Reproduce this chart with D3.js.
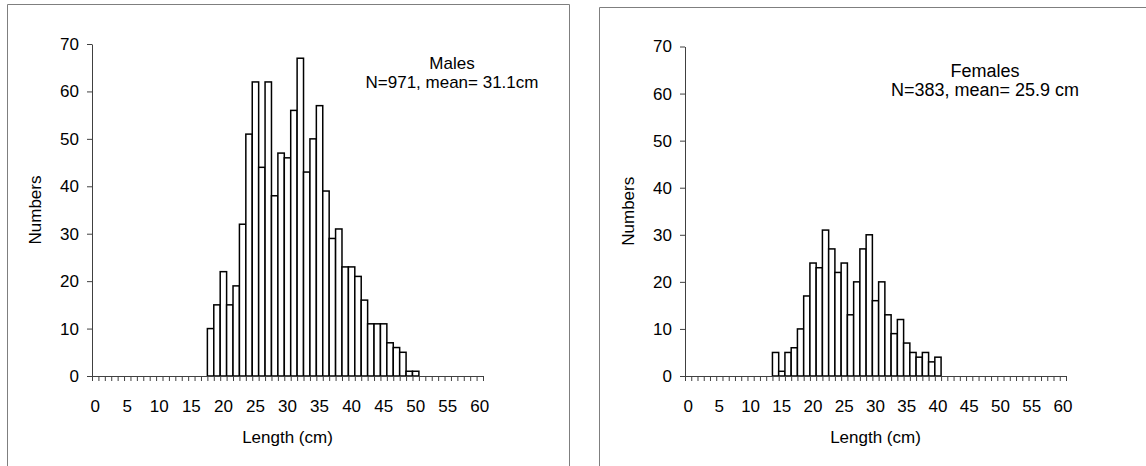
<!DOCTYPE html>
<html>
<head>
<meta charset="utf-8">
<script src="https://cdnjs.cloudflare.com/ajax/libs/d3/7.8.5/d3.min.js"></script>
<style>
  body { margin: 0; background: #fff; }
  svg text { font-family: "Liberation Sans", Arial, sans-serif; fill: #000; }
</style>
</head>
<body>
<svg id="vis" width="1146" height="466"></svg>
<script>
// length classes (cm) on the category axis
var categories = d3.range(0, 61);
var xTickLabels = [0, 5, 10, 15, 20, 25, 30, 35, 40, 45, 50, 55, 60];
var yTickLabels = [0, 10, 20, 30, 40, 50, 60, 70];

var maleLengths = [18, 19, 20, 21, 22, 23, 24, 25, 26, 27, 28, 29, 30, 31, 32, 33, 34,
                   35, 36, 37, 38, 39, 40, 41, 42, 43, 44, 45, 46, 47, 48, 49, 50];
var maleCounts  = [10, 15, 22, 15, 19, 32, 51, 62, 44, 62, 38, 47, 46, 56, 67, 43, 50,
                   57, 39, 29, 31, 23, 23, 21, 16, 11, 11, 11, 7, 6, 5, 1, 1];

var femaleLengths = [14, 15, 16, 17, 18, 19, 20, 21, 22, 23, 24, 25, 26, 27,
                     28, 29, 30, 31, 32, 33, 34, 35, 36, 37, 38, 39, 40];
var femaleCounts  = [5, 1, 5, 6, 10, 17, 24, 23, 31, 27, 22, 24, 13, 20,
                     27, 30, 16, 20, 13, 9, 12, 7, 5, 4, 5, 3, 4];

var svg = d3.select("#vis");

// panel frames
svg.append("path")
  .attr("d", "M7.5,466 V4.5 H569.5 V466")
  .attr("fill", "none").attr("stroke", "#7f7f7f").attr("stroke-width", 1);
svg.append("path")
  .attr("d", "M599.5,466 V7.5 H1146")
  .attr("fill", "none").attr("stroke", "#7f7f7f").attr("stroke-width", 1);

function drawPanel(p) {
  var g = svg.append("g");
  var lens = p.lengths, counts = p.counts;

  var x = d3.scaleBand().domain(categories).range([p.left, p.right]).padding(0);
  var xEdge = d3.scaleLinear().domain([0, categories.length]).range([p.left, p.right]);
  var y = d3.scaleLinear().domain([0, 70]).range([p.bottom, p.top]);

  // bars
  g.selectAll("rect.bar").data(lens).enter()
    .append("rect")
    .attr("class", "bar")
    .attr("x", function(d) { return x(d); })
    .attr("y", function(d, i) { return y(counts[i]); })
    .attr("width", x.bandwidth())
    .attr("height", function(d, i) { return y(0) - y(counts[i]); })
    .attr("fill", "#fff")
    .attr("stroke", "#000")
    .attr("stroke-width", 1.5);

  // y axis
  var ya = g.append("g")
    .attr("transform", "translate(" + p.left + ",0)")
    .call(d3.axisLeft(y).tickValues(yTickLabels).tickSize(5).tickPadding(8).tickSizeOuter(0));
  ya.select(".domain").attr("stroke", "#404040");
  ya.selectAll(".tick line").attr("stroke", "#404040");
  ya.selectAll("text").style("font-size", "17px");

  // x axis: ticks between categories
  var xt = g.append("g")
    .attr("transform", "translate(0," + p.bottom + ")")
    .call(d3.axisBottom(xEdge).tickValues(d3.range(0, categories.length + 1))
      .tickSize(5).tickFormat("").tickSizeOuter(0));
  xt.select(".domain").attr("stroke", "#404040");
  xt.selectAll(".tick line").attr("stroke", "#404040");

  // x axis labels every 5 cm
  var xl = g.append("g")
    .attr("transform", "translate(0," + p.bottom + ")")
    .call(d3.axisBottom(x).tickValues(xTickLabels).tickSize(0).tickPadding(24));
  xl.select(".domain").remove();
  xl.selectAll("text").style("font-size", "17px");

  g.append("text")
    .attr("x", (p.left + p.right) / 2).attr("y", 443)
    .attr("text-anchor", "middle").style("font-size", "17px")
    .text("Length (cm)");

  g.append("text")
    .attr("transform", "translate(" + p.yTitleX + "," + ((p.top + p.bottom) / 2) + ") rotate(-90)")
    .attr("text-anchor", "middle").style("font-size", "17px")
    .text("Numbers");

  g.append("text")
    .attr("x", p.noteX).attr("y", p.noteY)
    .attr("text-anchor", "middle").style("font-size", p.noteSize)
    .text(p.title);
  g.append("text")
    .attr("x", p.noteX).attr("y", p.noteY + 19)
    .attr("text-anchor", "middle").style("font-size", p.noteSize)
    .text(p.note);
}

drawPanel({
  lengths: maleLengths, counts: maleCounts,
  left: 92, right: 483, top: 44, bottom: 376,
  yTitleX: 41, noteX: 452, noteY: 69, noteSize: "17px",
  title: "Males", note: "N=971, mean= 31.1cm"
});

drawPanel({
  lengths: femaleLengths, counts: femaleCounts,
  left: 685, right: 1066, top: 46.5, bottom: 376,
  yTitleX: 634, noteX: 985, noteY: 77, noteSize: "18px",
  title: "Females", note: "N=383, mean= 25.9 cm"
});
</script>
</body>
</html>
